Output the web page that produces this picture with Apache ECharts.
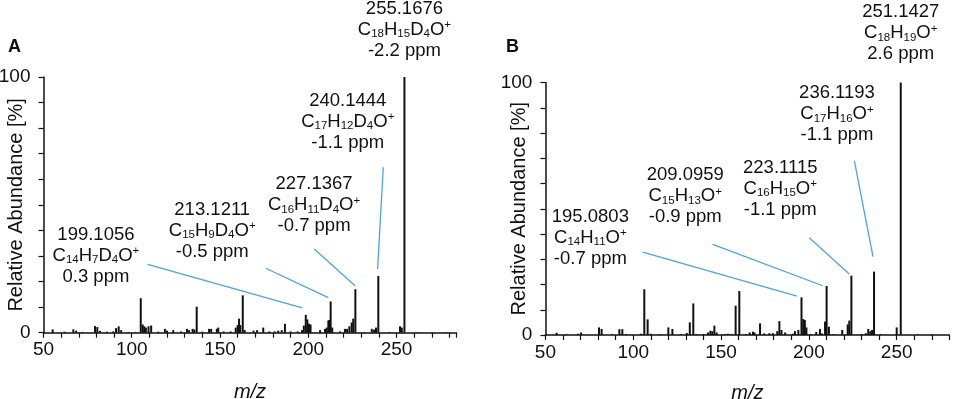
<!DOCTYPE html>
<html>
<head>
<meta charset="utf-8">
<script src="https://cdn.jsdelivr.net/npm/echarts@6/dist/echarts.min.js"></script>
<style>
  html, body { margin: 0; padding: 0; background: #fff; }
  #main { width: 957px; height: 399px; }
</style>
</head>
<body>
<div id="main"></div>
<script>
// spectrum A: [m/z, relative abundance %]
var peaksA = [
  [55.2,1.3],[62,0.4],[66.9,1.3],[68.5,0.8],[72,0.3],[79.2,2.6],[80.5,2.2],[82,0.7],[86,0.4],
  [89.5,0.5],[91.1,1.8],[92.6,2.5],[94,1.0],[98,0.3],[102,0.3],[105.1,13.5],[106.2,3.2],
  [107.1,2.5],[108,2.0],[109.5,2.5],[111,2.8],[115,0.4],[118.8,1.5],[120,0.8],[123.5,1.0],
  [128,0.5],[131.3,1.5],[132.5,1.0],[134.5,1.5],[135.5,1.2],[136.8,10.2],[140,0.4],[143.8,1.5],
  [145,1.5],[148.2,1.5],[149,2.0],[152,0.5],[156,0.5],[158.9,2.0],[160,3.0],[160.8,5.5],
  [161.5,3.0],[162.9,14.6],[164,1.0],[169,0.8],[171,1.0],[174.5,2.0],[178,0.5],[181,0.5],
  [183,0.8],[185,1.0],[186.8,3.5],[190,0.5],[194,0.5],[196.5,1.0],[197.5,2.8],[198.6,7.0],
  [199.5,5.2],[200.4,3.5],[201.3,3.2],[206.7,1.0],[209.5,1.5],[210.5,2.0],[211.4,4.8],[212,5.0],
  [212.7,12.2],[213.6,2.0],[218,0.5],[220.8,1.5],[222,1.5],[223.3,2.5],[224.6,4.0],[225.5,5.5],
  [226.7,17.0],[232,0.3],[236,1.5],[237.3,1.2],[238.4,2.0],[239.7,22.2],[246,0.3],[252,2.5],
  [253,2.0],[254.5,100],[262,0.2],[270,0.2],[278,0.2]
];

// spectrum B
var peaksB = [
  [56.4,0.9],[62,0.3],[68.5,0.5],[70.3,1.0],[80.5,3.0],[82,2.4],[88,0.3],[92.1,2.3],[93.8,2.3],
  [96,0.4],[104.5,0.5],[106.3,18.1],[108.2,6.2],[110,0.5],[115,0.3],[120,3.0],[122.3,2.4],
  [127,0.3],[130.5,0.8],[132.2,5.0],[134.2,12.5],[136,0.4],[140,0.4],[142.5,1.0],[143.9,1.7],
  [145,1.5],[146.2,3.7],[147.5,1.0],[152,0.4],[154,0.5],[156,0.4],[158.3,11.6],[160.4,17.4],
  [164,0.4],[166.3,1.0],[168.2,1.3],[169,1.0],[172.2,4.6],[174.5,0.6],[177.5,0.7],[179.5,0.7],
  [182,1.5],[183.2,5.5],[184.4,2.0],[186.5,1.0],[191,0.5],[192.1,1.5],[194,2.0],[195.8,14.9],
  [196.8,6.3],[197.7,5.9],[198.6,3.0],[201,0.4],[204.2,1.2],[206.3,2.4],[207.5,0.6],[209.2,5.3],
  [210.1,19.4],[211.4,3.3],[214,0.3],[219,2.0],[222.1,4.2],[223,5.7],[224.2,23.5],[230,0.4],
  [232.4,0.7],[233.8,2.4],[235,1.5],[236,2.0],[237.1,25.1],[241,0.3],[250,3.0],[252.3,100],
  [262,0.2],[270,0.2]
];

// annotated ions (mass, formula, mass error)
var ionsA = [
  ['240.1444', 'C{s|17}H{s|12}D{s|4}O{p|+}', '-1.1 ppm'],
  ['227.1367', 'C{s|16}H{s|11}D{s|4}O{p|+}', '-0.7 ppm'],
  ['213.1211', 'C{s|15}H{s|9}D{s|4}O{p|+}', '-0.5 ppm'],
  ['199.1056', 'C{s|14}H{s|7}D{s|4}O{p|+}', '0.3 ppm']
];
var baseIonA = ['255.1676', 'C{s|18}H{s|15}D{s|4}O{p|+}', '-2.2 ppm'];
var ionsB = [
  ['236.1193', 'C{s|17}H{s|16}O{p|+}', '-1.1 ppm'],
  ['223.1115', 'C{s|16}H{s|15}O{p|+}', '-1.1 ppm'],
  ['209.0959', 'C{s|15}H{s|13}O{p|+}', '-0.9 ppm'],
  ['195.0803', 'C{s|14}H{s|11}O{p|+}', '-0.7 ppm']
];
var baseIonB = ['251.1427', 'C{s|18}H{s|19}O{p|+}', '2.6 ppm'];

// label centres and leader lines, in data units [m/z, %]
var labelAtA = [[222.4, 82.5], [203.3, 49.9], [145.6, 39.9], [79.7, 30.1]];
var leaderA = [
  [[242.5, 64.7], [239.3, 24.8]],
  [[203.4, 32.7], [226.5, 18.4]],
  [[175.9, 25.2], [211.4, 13.7]],
  [[109.0, 26.7], [196.6, 9.7]]
];
var labelAtB = [[216.0, 87.4], [183.7, 57.9], [129.6, 55.0], [75.6, 38.5]];
var leaderB = [
  [[225.9, 69.0], [236.5, 31.0]],
  [[200.2, 38.5], [223.0, 24.2]],
  [[145.2, 35.9], [207.9, 19.5]],
  [[105.4, 32.8], [193.2, 15.4]]
];

var font = 'Liberation Sans, Arial, sans-serif';
var ink = '#111';
var blue = '#4ba3e0';
var rich = {
  s: { fontSize: 11.5, verticalAlign: 'bottom', lineHeight: 14, fontFamily: font, color: ink },
  p: { fontSize: 11.5, verticalAlign: 'top', lineHeight: 14, fontFamily: font, color: ink }
};

function ionText(ion) {
  return ion[0] + '\n' + ion[1] + '\n' + ion[2];
}

function spectrumData(peaks, baseIon, dist) {
  return peaks.map(function (p) {
    if (p[1] === 100) {
      return {
        value: p,
        label: {
          show: true, position: 'top', distance: dist,
          formatter: ionText(baseIon),
          fontSize: 18.5, lineHeight: 21, color: ink, fontFamily: font, rich: rich
        }
      };
    }
    return p;
  });
}

function xAxis(grid, max, gap) {
  return {
    type: 'value', gridIndex: grid, min: 50, max: max, interval: 10,
    name: 'm/z', nameLocation: 'middle', nameGap: gap, nameMoveOverlap: false,
    nameTextStyle: { fontSize: 20, fontStyle: 'italic', color: ink, fontFamily: font },
    axisLine: { show: true, onZero: false, lineStyle: { color: ink, width: 1.5 } },
    axisTick: { show: true, length: 5, lineStyle: { color: ink, width: 1.2 } },
    axisLabel: {
      margin: 8, fontSize: 19, color: ink, fontFamily: font,
      formatter: function (v) { return (v % 50 === 0 && v <= 250) ? String(v) : ''; }
    },
    splitLine: { show: false }
  };
}

function yAxis(grid, gap) {
  return {
    type: 'value', gridIndex: grid, min: 0, max: 100, interval: 100,
    name: 'Relative Abundance [%]', nameLocation: 'middle', nameGap: gap, nameMoveOverlap: false,
    nameTextStyle: { fontSize: 20, color: ink, fontFamily: font },
    axisLine: { show: true, lineStyle: { color: ink, width: 1.5 } },
    axisTick: { show: true, length: 5, lineStyle: { color: ink, width: 1.2 } },
    minorTick: { show: true, splitNumber: 10, length: 5, lineStyle: { color: ink, width: 1.2 } },
    axisLabel: { margin: 13, fontSize: 19, color: ink, fontFamily: font },
    splitLine: { show: false }
  };
}

function spectrumSeries(idx, peaks, baseIon, dist, ions, labelAt, leaders) {
  return {
    type: 'bar', xAxisIndex: idx, yAxisIndex: idx,
    barWidth: 2,
    itemStyle: { color: ink },
    data: spectrumData(peaks, baseIon, dist),
    markLine: {
      silent: true, symbol: ['none', 'none'],
      label: { show: false },
      lineStyle: { color: blue, width: 1.3, type: 'solid' },
      data: leaders.map(function (l) {
        return [{ coord: l[0] }, { coord: l[1] }];
      })
    },
    markPoint: {
      silent: true, symbol: 'circle', symbolSize: 1,
      itemStyle: { color: 'rgba(0,0,0,0)' },
      label: {
        show: true, position: 'inside',
        formatter: function (p) { return p.name; },
        fontSize: 18.5, lineHeight: 21, color: ink, fontFamily: font, rich: rich
      },
      data: ions.map(function (ion, i) {
        return { coord: labelAt[i], name: ionText(ion) };
      })
    }
  };
}

var myChart = echarts.init(document.getElementById('main'));
var option = {
  animation: false,
  textStyle: { fontFamily: font },
  title: [
    { text: 'A', left: 8, top: 38, padding: 0, textStyle: { fontSize: 18, fontWeight: 'bold', color: ink, fontFamily: font } },
    { text: 'B', left: 506, top: 38, padding: 0, textStyle: { fontSize: 18, fontWeight: 'bold', color: ink, fontFamily: font } }
  ],
  grid: [
    { left: 43.5, top: 77, width: 413, height: 255.7, containLabel: false, outerBoundsMode: 'none' },
    { left: 545.4, top: 82.5, width: 404, height: 252.5, containLabel: false, outerBoundsMode: 'none' }
  ],
  xAxis: [xAxis(0, 284, 50), xAxis(1, 280, 48)],
  yAxis: [yAxis(0, 17), yAxis(1, 16)],
  series: [
    spectrumSeries(0, peaksA, baseIonA, 16, ionsA, labelAtA, leaderA),
    spectrumSeries(1, peaksB, baseIonB, 18, ionsB, labelAtB, leaderB)
  ]
};
myChart.setOption(option);
</script>
</body>
</html>
